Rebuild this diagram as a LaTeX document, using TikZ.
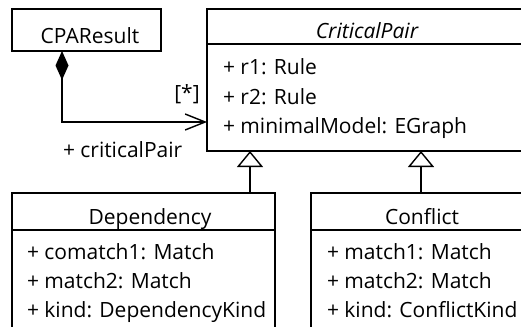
\documentclass[tikz,border=0pt]{standalone}
\usepackage{fontspec}
\setmainfont{Open Sans}
\usetikzlibrary{arrows.meta}
\begin{document}
\begin{tikzpicture}[x=1pt,y=-1pt,line width=1.4pt,
  every node/.style={inner sep=0pt,outer sep=0pt,font=\fontsize{21}{24}\selectfont},
  classbox/.style={draw,fill=white,anchor=north west},
  attr/.style={anchor=base west},
  ttl/.style={anchor=base}]
\useasboundingbox (0,0) rectangle (521,326);
\clip (0,0) rectangle (521,326);
% CPAResult
\node[classbox,minimum width=149pt,minimum height=42pt] (cpa) at (12,9) {};
\node[ttl] (cpat) at (90,44) {CPAResult};
% CriticalPair
\node[classbox,minimum width=320pt,minimum height=142pt] (cp) at (207,9) {};
\draw (207,44) -- (527,44);
\node[ttl] (cpt) at (367,39) {\itshape CriticalPair};
\node[attr] (cp1) at (223,75) {+ r1: Rule};
\node[attr] (cp2) at (223,104) {+ r2: Rule};
\node[attr] (cp3) at (223,133) {+ minimalModel: EGraph};
% Dependency
\node[classbox,minimum width=263pt,minimum height=150pt] (dep) at (12,193) {};
\draw (12,230) -- (275,230);
\node[ttl] (dept) at (150,224) {Dependency};
\node[attr] (dep1) at (27,259) {+ comatch1: Match};
\node[attr] (dep2) at (27,288) {+ match2: Match};
\node[attr] (dep3) at (27,317) {+ kind: DependencyKind};
% Conflict
\node[classbox,minimum width=222pt,minimum height=150pt] (con) at (311,193) {};
\draw (311,230) -- (533,230);
\node[ttl] (cont) at (422,224) {Conflict};
\node[attr] (con1) at (327,259) {+ match1: Match};
\node[attr] (con2) at (327,288) {+ match2: Match};
\node[attr] (con3) at (327,317) {+ kind: ConflictKind};
% composition
\coordinate (cs) at (62,51);
\coordinate (ce) at (207,122);
\draw[{Diamond[length=29pt,width=13pt]}-{Straight Barb[length=20pt,width=16pt,line width=1.4pt]}] (cs) |- (ce);
\node[anchor=base] (mult) at (187,100) {[*]};
\node[anchor=base west] (role) at (63,157) {+ criticalPair};
% generalizations
\coordinate (g1s) at (250,193);
\coordinate (g1e) at (250,151);
\coordinate (g2s) at (421,193);
\coordinate (g2e) at (421,151);
\draw[-{Triangle[open,length=16pt,width=26pt,fill=white]}] (g1s) -- (g1e);
\draw[-{Triangle[open,length=16pt,width=26pt,fill=white]}] (g2s) -- (g2e);
\end{tikzpicture}
\end{document}
